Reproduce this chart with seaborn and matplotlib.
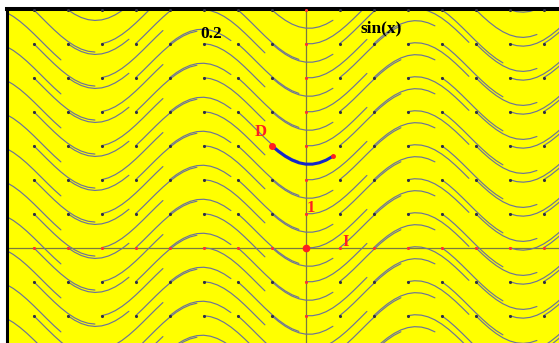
import numpy as np
import pandas as pd
import matplotlib
matplotlib.use('Agg')
import matplotlib.pyplot as plt
import seaborn as sns

# grid of starting points for y' = sin(x)
grid_x = list(range(-9, 8))
grid_y = list(range(-4, 8))
step = 0.2
n_steps = 9
point_d = (-1, 3)
label_step = '0.2'
label_func = 'sin(x)'


def euler(x0, y0):
    xs, ys = [x0], [y0]
    for _ in range(n_steps):
        ys.append(ys[-1] + step * np.sin(xs[-1]))
        xs.append(xs[-1] + step)
    return xs, ys


rows = []
seg = 0
for gx in grid_x:
    for gy in grid_y:
        xs, ys = euler(gx, gy)
        for a, b in zip(xs, ys):
            rows.append((seg, a, b))
        seg += 1
df = pd.DataFrame(rows, columns=['seg', 'x', 'y'])

dx, dy = euler(*point_d)
dfd = pd.DataFrame({'x': dx, 'y': dy})

pts = pd.DataFrame([(a, b) for a in grid_x for b in grid_y], columns=['x', 'y'])
on_axis = (pts['x'] == 0) | (pts['y'] == 0)

sns.set_style('white')
fig = plt.figure(figsize=(5.59, 3.43), dpi=100)
fig.patch.set_facecolor('white')
# pixel positions of the frame
left_px, top_px = 6.5, 9.0
ox, oy, unit = 305.7, 247.7, 34.0
ax = fig.add_axes([left_px / 559, 0, 1 - left_px / 559, 1 - top_px / 343])
ax.set_facecolor('#ffff00')

ax.axhline(0, color='#7a7a40', lw=0.9, zorder=1)
ax.axvline(0, color='#7a7a40', lw=0.9, zorder=1)

sns.lineplot(data=df, x='x', y='y', units='seg', estimator=None, sort=False,
             color='#6c7398', lw=0.85, ax=ax, zorder=2)
sns.scatterplot(data=pts[~on_axis], x='x', y='y', color='#303040', s=5,
                linewidth=0, ax=ax, zorder=3)
sns.scatterplot(data=pts[on_axis], x='x', y='y', color='#ff3030', s=5,
                linewidth=0, ax=ax, zorder=3)

sns.lineplot(data=dfd, x='x', y='y', sort=False, color='#1428c8', lw=2.2,
             ax=ax, zorder=4)
ax.plot([dx[0]], [dy[0]], 'o', color='#ff2020', ms=4, zorder=5)
ax.plot([dx[-1]], [dy[-1]], 'o', color='#ff2020', ms=2.5, zorder=5)
ax.plot([0], [0], 'o', color='#ff2020', ms=4.5, zorder=5)

serif = ['Liberation Serif', 'DejaVu Serif']


def px(x, y):
    return (x - ox) / unit, (oy - y) / unit


for (x, y), s, c, fs in [((261, 132), 'D', '#ff2020', 12),
                         ((311, 208), '1', '#ff2020', 12),
                         ((346, 242), 'I', '#ff2020', 12),
                         ((211, 34), label_step, 'black', 12.5),
                         ((381, 28), label_func, 'black', 12.5)]:
    tx, ty = px(x, y)
    ax.text(tx, ty, s, color=c, fontsize=fs, fontweight='bold',
            family=serif, ha='center', va='center', zorder=6)

ax.set_xlim((left_px - ox) / unit, (559 - ox) / unit)
ax.set_ylim((oy - 343) / unit, (oy - top_px) / unit)
ax.set_xlabel('')
ax.set_ylabel('')
ax.set_xticks([])
ax.set_yticks([])
for side in ['right', 'bottom']:
    ax.spines[side].set_visible(False)
ax.spines['top'].set_color('black')
ax.spines['top'].set_linewidth(2.9)
ax.spines['left'].set_color('black')
ax.spines['left'].set_linewidth(2.2)

fig.savefig('out.png', dpi=100)
